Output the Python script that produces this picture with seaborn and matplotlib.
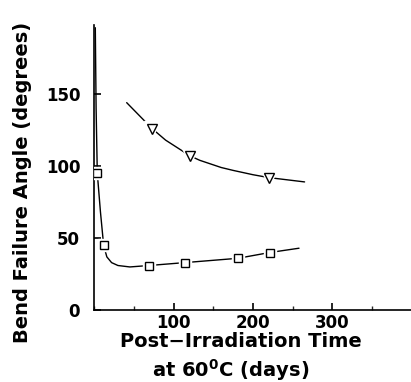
import numpy as np
import pandas as pd
import matplotlib
matplotlib.use("Agg")
import matplotlib.pyplot as plt
import seaborn as sns
from matplotlib.ticker import MultipleLocator

# measured points
sq_days = [4, 12, 69, 114, 181, 221]
sq_angle = [95, 45, 31, 33, 36, 40]
tri_days = [73, 121, 220]
tri_angle = [126, 107, 92]

# hand-drawn fit curves
sq_curve_days = [1.5, 2.5, 4, 8, 12, 16, 22, 30, 45, 69, 114, 181, 221, 258]
sq_curve_angle = [196, 140, 95, 68, 45, 37, 33, 31, 30, 31, 33, 36, 40, 43]
tri_curve_days = [41, 57, 73, 90, 121, 133, 160, 175, 200, 220, 265]
tri_curve_angle = [144, 135, 126, 118, 107, 104, 99, 97, 94, 92, 89]

sns.set_theme(style="white")
plt.rcParams["font.family"] = ["DejaVu Sans"]
plt.rcParams["font.weight"] = "bold"
plt.rcParams["mathtext.default"] = "bf"

fig = plt.figure(figsize=(4.11, 3.82), dpi=100)
ax = fig.add_axes([0.229, 0.188, 0.771, 0.747])

sns.lineplot(x=sq_curve_days, y=sq_curve_angle, ax=ax, color="black", lw=1.0, sort=False)
sns.lineplot(x=tri_curve_days, y=tri_curve_angle, ax=ax, color="black", lw=1.0, sort=False)

# white halo so the curves break around the symbols
ax.plot(sq_days, sq_angle, ls="none", marker="s", ms=9, mfc="white", mec="white", zorder=3)
ax.plot(tri_days, tri_angle, ls="none", marker="v", ms=11, mfc="white", mec="white", zorder=3)
ax.plot(sq_days, sq_angle, ls="none", marker="s", ms=6, mfc="white", mec="black", mew=1.0, zorder=4)
ax.plot(tri_days, tri_angle, ls="none", marker="v", ms=7.5, mfc="white", mec="black", mew=1.0, zorder=4)

ax.set_xlim(0, 399)
ax.set_ylim(0, 198)
ax.xaxis.set_major_locator(MultipleLocator(100))
ax.xaxis.set_minor_locator(MultipleLocator(50))
ax.set_yticks([0, 50, 100, 150])
ax.set_xticks([100, 200, 300])
ax.tick_params(axis="both", which="major", direction="in", length=5, width=1.2,
               labelsize=12, colors="black")
ax.tick_params(axis="x", which="minor", direction="in", length=3, width=1.0, bottom=True)
ax.tick_params(axis="x", which="major", pad=3, bottom=True)
ax.tick_params(axis="y", which="major", pad=10, left=True)

for s in ["top", "right"]:
    ax.spines[s].set_visible(False)
for s in ["left", "bottom"]:
    ax.spines[s].set_color("black")
    ax.spines[s].set_linewidth(1.2)

ax.set_ylabel("Bend Failure Angle (degrees)", fontsize=14, fontweight="bold", color="black")
ax.yaxis.set_label_coords(-0.196, 0.449)
ax.set_xlabel("Post\u2212Irradiation Time", fontsize=14, fontweight="bold", color="black")
ax.xaxis.set_label_coords(0.464, -0.077)
ax.xaxis.label.set_va("top")
ax.text(0.43, -0.165, "at 60$^0$C (days)", transform=ax.transAxes, fontsize=14,
        fontweight="bold", color="black", ha="center", va="top")

fig.savefig("out.png", dpi=100)
